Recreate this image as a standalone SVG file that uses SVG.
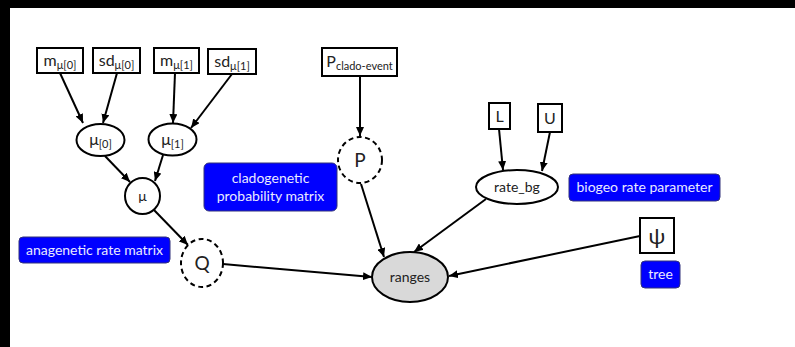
<svg xmlns="http://www.w3.org/2000/svg" width="795" height="347" viewBox="0 0 795 347">
<style>
text{font-family:Lato,"Liberation Sans",sans-serif;fill:#222;}
.box{fill:#fff;stroke:#000;stroke-width:2;}
.node{fill:#fff;stroke:#000;stroke-width:2;}
.dash{stroke-dasharray:5,3.5;}
.lbl{fill:#0000ff;stroke:#33337a;stroke-width:1;}
.lt{fill:#eaeaff;font-size:14px;}
.n{font-size:16px;}
.s{font-size:11px;}
.e{stroke:#000;stroke-width:2;fill:none;marker-end:url(#ah);}
</style>
<defs>
<marker id="ah" markerUnits="userSpaceOnUse" markerWidth="10" markerHeight="8" refX="9" refY="4" orient="auto">
<path d="M0,0 L9,4 L0,8 z" fill="#000"/>
</marker>
</defs>
<rect x="0" y="0" width="795" height="347" fill="#fff"/>
<rect x="0" y="0" width="795" height="8" fill="#000"/>
<rect x="0" y="0" width="10" height="347" fill="#000"/>

<g id="edges">
<line class="e" x1="60" y1="73" x2="83" y2="123"/>
<line class="e" x1="117" y1="73" x2="103" y2="123"/>
<line class="e" x1="175" y1="73" x2="173" y2="123"/>
<line class="e" x1="232" y1="74" x2="191" y2="128"/>
<line class="e" x1="105" y1="156" x2="130" y2="182"/>
<line class="e" x1="163" y1="155" x2="155" y2="181"/>
<line class="e" x1="154" y1="210" x2="188" y2="245"/>
<line class="e" x1="223" y1="264" x2="372" y2="277"/>
<line class="e" x1="361" y1="184" x2="384" y2="257"/>
<line class="e" x1="486" y1="199" x2="414" y2="252"/>
<line class="e" x1="640" y1="236" x2="449" y2="276"/>
<line class="e" x1="360" y1="76" x2="360" y2="136"/>
<line class="e" x1="499" y1="129" x2="503" y2="170"/>
<line class="e" x1="550" y1="132" x2="542" y2="171"/>
</g>

<g id="m_mu0"><rect class="box" x="37" y="48" width="46" height="25"/><text x="60" y="66" text-anchor="middle" class="n">m<tspan class="s" dy="3">μ[0]</tspan></text></g>
<g id="sd_mu0"><rect class="box" x="93" y="48" width="47" height="25"/><text x="116.5" y="66" text-anchor="middle" class="n">sd<tspan class="s" dy="3">μ[0]</tspan></text></g>
<g id="m_mu1"><rect class="box" x="154" y="48" width="45" height="25"/><text x="176.5" y="66" text-anchor="middle" class="n">m<tspan class="s" dy="3">μ[1]</tspan></text></g>
<g id="sd_mu1"><rect class="box" x="208" y="49" width="48" height="25"/><text x="232" y="67" text-anchor="middle" class="n">sd<tspan class="s" dy="3">μ[1]</tspan></text></g>
<g id="p_clado"><rect class="box" x="322" y="48" width="75" height="28"/><text x="359.5" y="67" text-anchor="middle" class="n">P<tspan class="s" dy="3">clado-event</tspan></text></g>
<g id="L"><rect class="box" x="489" y="103" width="21" height="26"/><text x="499.5" y="122" text-anchor="middle" class="n">L</text></g>
<g id="U"><rect class="box" x="538" y="104" width="24" height="28"/><text x="550" y="124" text-anchor="middle" class="n">U</text></g>
<g id="psi"><rect class="box" x="640" y="218" width="34" height="35"/><text x="657" y="244" text-anchor="middle" style="font-size:22px">ψ</text></g>

<g id="mu0"><ellipse class="node" cx="100.5" cy="140" rx="24" ry="16"/><text x="100.5" y="145" text-anchor="middle" class="n">μ<tspan class="s" dy="3">[0]</tspan></text></g>
<g id="mu1"><ellipse class="node" cx="172.5" cy="139.5" rx="24" ry="16"/><text x="172.5" y="145" text-anchor="middle" class="n">μ<tspan class="s" dy="3">[1]</tspan></text></g>
<g id="mu"><ellipse class="node" cx="142.5" cy="196" rx="17.5" ry="18"/><text x="142.5" y="201" text-anchor="middle" style="font-size:14px">μ</text></g>
<g id="P"><ellipse class="node dash" cx="360" cy="160" rx="22" ry="23"/><text x="360" y="167" text-anchor="middle" style="font-size:19px">P</text></g>
<g id="Q"><ellipse class="node dash" cx="202" cy="263" rx="21" ry="24"/><text x="202" y="270" text-anchor="middle" style="font-size:19px">Q</text></g>
<g id="rate_bg"><ellipse class="node" cx="517" cy="187" rx="41" ry="17"/><text x="517" y="192" text-anchor="middle" style="font-size:14px">rate_bg</text></g>
<g id="ranges"><ellipse class="node" cx="410" cy="277" rx="38" ry="25" style="fill:#d9d9d9"/><text x="410" y="282" text-anchor="middle" style="font-size:14px">ranges</text></g>

<g id="lbl_ana"><rect class="lbl" x="19" y="237" width="151" height="26" rx="4"/><text class="lt" x="94.5" y="255" text-anchor="middle">anagenetic rate matrix</text></g>
<g id="lbl_clado"><rect class="lbl" x="204" y="163" width="133" height="48" rx="5"/><text class="lt" x="270.5" y="183" text-anchor="middle">cladogenetic</text><text class="lt" x="270.5" y="201" text-anchor="middle">probability matrix</text></g>
<g id="lbl_biogeo"><rect class="lbl" x="569" y="174" width="151" height="27" rx="4"/><text class="lt" x="644.5" y="192" text-anchor="middle">biogeo rate parameter</text></g>
<g id="lbl_tree"><rect class="lbl" x="641" y="261" width="39" height="27" rx="4"/><text class="lt" x="660.5" y="279" text-anchor="middle">tree</text></g>
</svg>
